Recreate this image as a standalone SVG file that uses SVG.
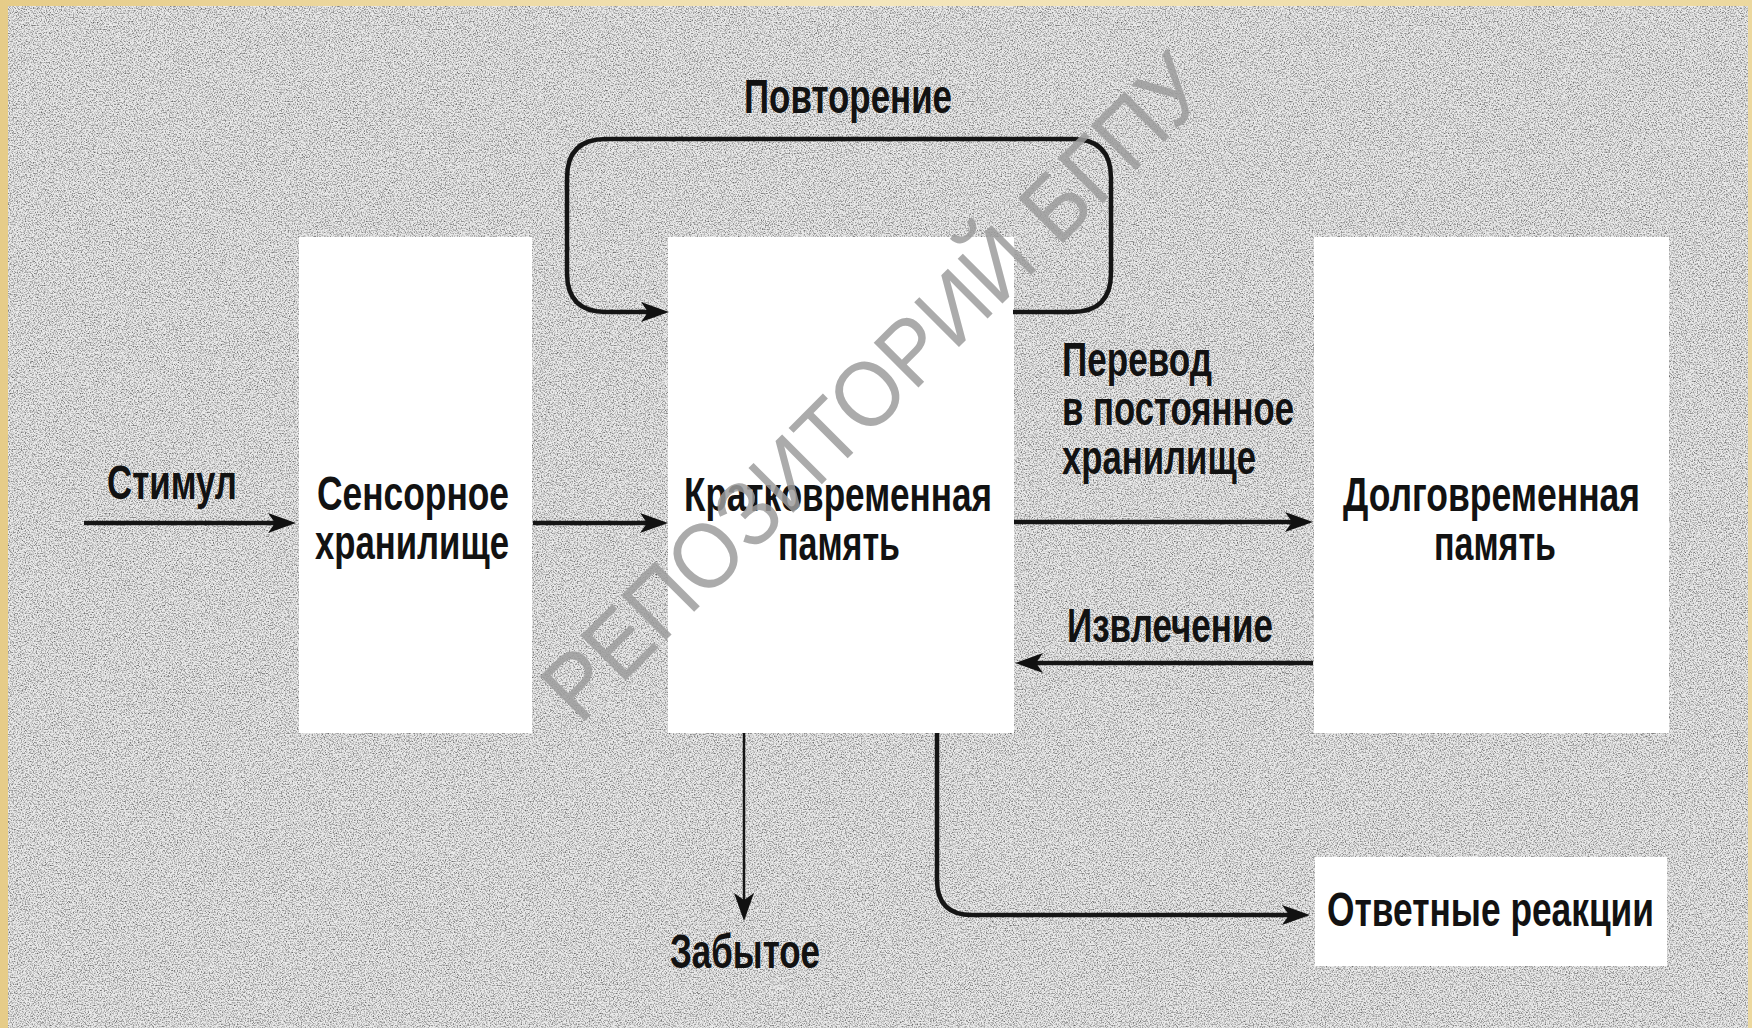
<svg xmlns="http://www.w3.org/2000/svg" width="1752" height="1028" viewBox="0 0 1752 1028">
  <defs>
    <filter id="grain" x="0" y="0" width="100%" height="100%" color-interpolation-filters="sRGB">
      <feTurbulence type="fractalNoise" baseFrequency="0.75" numOctaves="2" seed="7"/>
      <feColorMatrix type="matrix" values="2.2 0 0 0 -0.26  2.2 0 0 0 -0.26  2.2 0 0 0 -0.26  0 0 0 0 1"/>
    </filter>
    <linearGradient id="frame" x1="0" y1="0" x2="1" y2="0">
      <stop offset="0" stop-color="#e6cc88"/>
      <stop offset="0.5" stop-color="#f4e6bc"/>
      <stop offset="1" stop-color="#ecd89e"/>
    </linearGradient>
    <marker id="ah" viewBox="-30 -12 32 24" markerWidth="32" markerHeight="24" refX="-10" refY="0" orient="auto" markerUnits="userSpaceOnUse">
      <path d="M0,0 L-28,-10 L-21,0 L-28,10 Z" fill="#111"/>
    </marker>
    <style>
      .lbl { font-family: "Liberation Sans", Arial, sans-serif; font-weight: bold; font-size: 48px; fill: #121212; }
      .box { fill: #ffffff; }
      .con { fill: none; stroke: #151515; stroke-width: 4.5; }
      .thin { stroke-width: 2.5; }
      .wm { font-family: "Liberation Sans", Arial, sans-serif; font-size: 92px; fill: #9c9c9c; fill-opacity: 0.85; }
    </style>
  </defs>

  <rect x="0" y="0" width="1752" height="1028" fill="url(#frame)"/>
  <rect x="8" y="6" width="1740" height="1022" fill="#d2d2d2"/>
  <rect x="8" y="6" width="1740" height="1022" filter="url(#grain)" opacity="0.55"/>

  <g id="sensory">
    <rect class="box" x="299" y="237" width="233" height="496"/>
    <text class="lbl" x="317" y="510" textLength="192" lengthAdjust="spacingAndGlyphs">Сенсорное</text>
    <text class="lbl" x="315" y="559" textLength="194" lengthAdjust="spacingAndGlyphs">хранилище</text>
  </g>

  <g id="stm">
    <rect class="box" x="668" y="237" width="346" height="496"/>
    <text class="lbl" x="684" y="511" textLength="308" lengthAdjust="spacingAndGlyphs">Кратковременная</text>
    <text class="lbl" x="778" y="560" textLength="122" lengthAdjust="spacingAndGlyphs">память</text>
  </g>

  <g id="ltm">
    <rect class="box" x="1314" y="237" width="355" height="496"/>
    <text class="lbl" x="1343" y="511" textLength="297" lengthAdjust="spacingAndGlyphs">Долговременная</text>
    <text class="lbl" x="1434" y="560" textLength="122" lengthAdjust="spacingAndGlyphs">память</text>
  </g>

  <g id="responses">
    <rect class="box" x="1315" y="857" width="352" height="109"/>
    <text class="lbl" x="1327" y="926" textLength="327" lengthAdjust="spacingAndGlyphs">Ответные реакции</text>
  </g>

  <g id="stimulus">
    <text class="lbl" x="107" y="499" textLength="130" lengthAdjust="spacingAndGlyphs">Стимул</text>
  </g>

  <g id="forgotten">
    <text class="lbl" x="670" y="968" textLength="150" lengthAdjust="spacingAndGlyphs">Забытое</text>
  </g>

  <g id="connectors">
    <path class="con" d="M84,523 H286" marker-end="url(#ah)"/>
    <path class="con" d="M533,523 H658" marker-end="url(#ah)"/>
    <path class="con" d="M1014,522 H1303" marker-end="url(#ah)"/>
    <path class="con" d="M1313,663 H1025" marker-end="url(#ah)"/>
    <path class="con thin" d="M744,733 V911" marker-end="url(#ah)"/>
    <path class="con" d="M937,733 V880 Q937,915 972,915 H1300" marker-end="url(#ah)"/>
    <path class="con" d="M1013,312 H1072 Q1111,312 1111,273 V178 Q1111,139 1072,139 H606 Q567,139 567,178 V273 Q567,312 606,312 H659" marker-end="url(#ah)"/>
    <text class="lbl" x="744" y="113" textLength="208" lengthAdjust="spacingAndGlyphs">Повторение</text>
    <text class="lbl" x="1062" y="376" textLength="150" lengthAdjust="spacingAndGlyphs">Перевод</text>
    <text class="lbl" x="1062" y="425" textLength="232" lengthAdjust="spacingAndGlyphs">в постоянное</text>
    <text class="lbl" x="1062" y="474" textLength="194" lengthAdjust="spacingAndGlyphs">хранилище</text>
    <text class="lbl" x="1067" y="642" textLength="206" lengthAdjust="spacingAndGlyphs">Извлечение</text>
  </g>

  <g id="watermark">
    <text class="wm" x="0" y="0" transform="translate(580,726) rotate(-45)" textLength="895" lengthAdjust="spacingAndGlyphs">РЕПОЗИТОРИЙ БГПУ</text>
  </g>
</svg>
